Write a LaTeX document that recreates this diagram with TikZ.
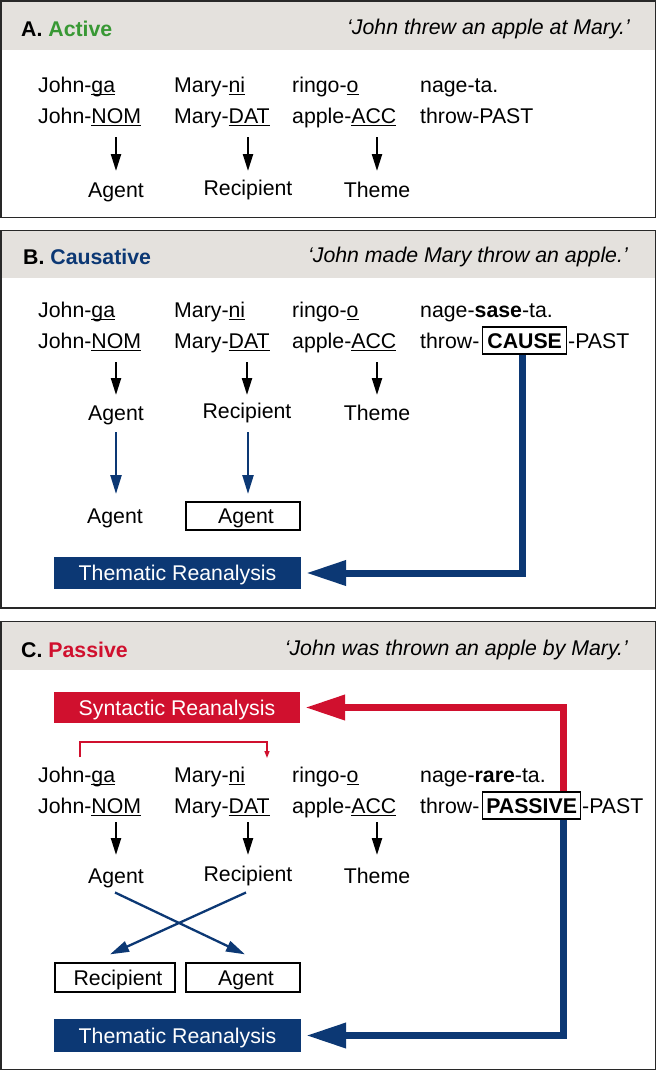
\documentclass[tikz,border=0pt]{standalone}
\usepackage{fontspec}
\setmainfont{Liberation Sans}
\usetikzlibrary{arrows.meta,calc}
\definecolor{hdr}{RGB}{228,225,221}
\definecolor{agreen}{RGB}{56,152,52}
\definecolor{navy}{RGB}{12,56,116}
\definecolor{cred}{RGB}{208,16,46}
\definecolor{frame}{RGB}{40,40,40}
\newcommand\myul[1]{{\setbox0\hbox{#1}\rlap{\rule[-2.6pt]{\wd0}{1.1pt}}\box0}}
\begin{document}
\begin{tikzpicture}[x=1pt,y=-1pt,
  every node/.style={font=\fontsize{21.3}{25}\selectfont, inner sep=0pt},
  txt/.style={anchor=base west},
  role/.style={anchor=base},
  hd/.style={anchor=base west, font=\fontsize{21.3}{25}\selectfont\bfseries},
  qt/.style={anchor=base east, font=\fontsize{21.3}{25}\selectfont\itshape},
  blk/.style={line width=2.2pt, -{Triangle[length=17pt,width=10pt]}},
  blu/.style={draw=navy, line width=2.3pt, -{Triangle[length=19pt,width=11pt]}, fill=navy},
  wbox/.style={draw=black, line width=1.3pt, fill=white, text height=15pt, text depth=0pt, inner sep=0pt},
  kbox/.style={draw=black, line width=1.3pt, text height=15pt, text depth=0pt, inner ysep=6pt, inner xsep=0pt, font=\fontsize{21.3}{25}\selectfont\bfseries, anchor=base west},
  rbox/.style={text=white, text height=15pt, text depth=0pt, inner sep=0pt, minimum width=247pt},
  big/.style={line width=7pt, line join=miter, -{Triangle[length=40pt,width=24pt]}},
  frm/.style={draw=frame, line width=1.8pt},
]
\fill[white] (0,0) rectangle (657,1071);
\useasboundingbox (0,0) rectangle (657,1071);

% ---------- Panel A ----------
\fill[hdr] (1,1) rectangle (655.5,50);
\draw[frm] (1,1) rectangle (655.5,217.5);
\node[hd] (hA) at (21,36) {A. \textcolor{agreen}{Active}};
\node[qt] (qA) at (630,34) {‘John threw an apple at Mary.’};
\node[txt] (gaA) at (38,92) {John-\myul{ga}};
\node[txt] (niA) at (174,92) {Mary-\myul{ni}};
\node[txt] (oA) at (292,92) {ringo-\myul{o}};
\node[txt] (taA) at (420,92) {nage-ta.};
\node[txt] (nomA) at (38,123) {John-\myul{NOM}};
\node[txt] (datA) at (174,123) {Mary-\myul{DAT}};
\node[txt] (accA) at (292,123) {apple-\myul{ACC}};
\node[txt] (pastA) at (420,123) {throw-PAST};
\node[role] (agA) at (116,197) {Agent};
\node[role] (recA) at (248,195) {Recipient};
\node[role] (thA) at (377,197) {Theme};
\foreach \n in {agA,recA,thA}
  \draw[blk, shorten <=14pt, shorten >=26pt] (\n.base |- nomA.base) -- (\n.base |- agA.base);

% ---------- Panel B ----------
\fill[hdr] (1,230.5) rectangle (655.5,278);
\draw[frm] (1,230.5) rectangle (655.5,608);
\node[hd] (hB) at (23,264) {B. \textcolor{navy}{Causative}};
\node[qt] (qB) at (628,262) {‘John made Mary throw an apple.’};
\node[txt] (gaB) at (38,317) {John-\myul{ga}};
\node[txt] (niB) at (174,317) {Mary-\myul{ni}};
\node[txt] (oB) at (292,317) {ringo-\myul{o}};
\node[txt] (taB) at (420,317) {nage-\textbf{sase}-ta.};
\node[txt] (nomB) at (38,348) {John-\myul{NOM}};
\node[txt] (datB) at (174,348) {Mary-\myul{DAT}};
\node[txt] (accB) at (292,348) {apple-\myul{ACC}};
\node[txt] (thrB) at (420,348) {throw-};
\node[kbox, minimum width=84pt] (causeB) at (482,348) {CAUSE};
\node[txt] (pastB) at (568,348) {-PAST};
\node[role] (agB) at (116,420) {Agent};
\node[role] (recB) at (247,418) {Recipient};
\node[role] (thB) at (377,420) {Theme};
\foreach \n in {agB,recB,thB}
  \draw[blk, shorten <=14pt, shorten >=25pt] (\n.base |- nomB.base) -- (\n.base |- agB.base);
\node[role] (ag2B) at (115,523) {Agent};
\node[wbox, minimum width=114pt, minimum height=28pt] (agbB) at (243,516) {\hspace*{6pt}Agent};
\draw[blu, shorten <=12pt, shorten >=29pt] (agB.base) -- (agB.base |- ag2B.base);
\draw[blu, shorten <=12pt, shorten >=29pt] ([xshift=1pt]recB.base |- agB.base) -- ([xshift=1pt]recB.base |- ag2B.base);
\node[rbox, fill=navy, minimum height=32pt] (themB) at (177.5,573) {Thematic Reanalysis};
\draw[big, navy, shorten >=5pt] ([xshift=-2.5pt]causeB.south) |- (themB.east);

% ---------- Panel C ----------
\fill[hdr] (1,621.5) rectangle (655.5,670);
\draw[frm] (1,621.5) rectangle (655.5,1069.5);
\node[hd] (hC) at (21,657) {C. \textcolor{cred}{Passive}};
\node[qt] (qC) at (628,655) {‘John was thrown an apple by Mary.’};
\node[rbox, fill=cred, minimum height=31pt, minimum width=246pt] (synC) at (177,707.5) {Syntactic Reanalysis};
\node[txt] (gaC) at (38,782) {John-\myul{ga}};
\node[txt] (niC) at (174,782) {Mary-\myul{ni}};
\node[txt] (oC) at (292,782) {ringo-\myul{o}};
\node[txt] (taC) at (420,782) {nage-\textbf{rare}-ta.};
\node[txt] (nomC) at (38,813) {John-\myul{NOM}};
\node[txt] (datC) at (174,813) {Mary-\myul{DAT}};
\node[txt] (accC) at (292,813) {apple-\myul{ACC}};
\node[txt] (thrC) at (420,813) {throw-};
\node[kbox, minimum width=98pt] (passC) at (482,813) {PASSIVE};
\node[txt] (pastC) at (582,813) {-PAST};
\draw[cred, line width=1.3pt, -{Triangle[length=7pt,width=5pt]}]
  ($(gaC.base west)+(42,-25)$) -- ++(0,-15) -- ++(187,0) -- ++(0,16);
\node[role] (agC) at (116,883) {Agent};
\node[role] (recC) at (248,881.5) {Recipient};
\node[role] (thC) at (377,883) {Theme};
\foreach \n in {agC,recC,thC}
  \draw[blk, shorten <=9pt, shorten >=28pt] (\n.base |- nomC.base) -- (\n.base |- agC.base);
\node[wbox, minimum width=120pt, minimum height=29pt] (recbC) at (115,977.5) {\hspace*{6pt}Recipient};
\node[wbox, minimum width=114pt, minimum height=29pt] (agbC) at (243,977.5) {\hspace*{6pt}Agent};
\draw[blu] ([xshift=-1pt,yshift=-9.5pt]agC.base) -- ([xshift=2pt,yshift=8pt]agbC.north);
\draw[blu] ([xshift=-2pt,yshift=-11pt]recC.base) -- ([xshift=-5pt,yshift=8pt]recbC.north);
\node[rbox, fill=navy, minimum height=33pt] (themC) at (177.5,1035.5) {Thematic Reanalysis};
\draw[big, cred, shorten >=5pt] ([xshift=32pt]passC.north) |- (synC.east);
\draw[big, navy, shorten >=5pt] ([xshift=32pt]passC.south) |- (themC.east);
\end{tikzpicture}
\end{document}
